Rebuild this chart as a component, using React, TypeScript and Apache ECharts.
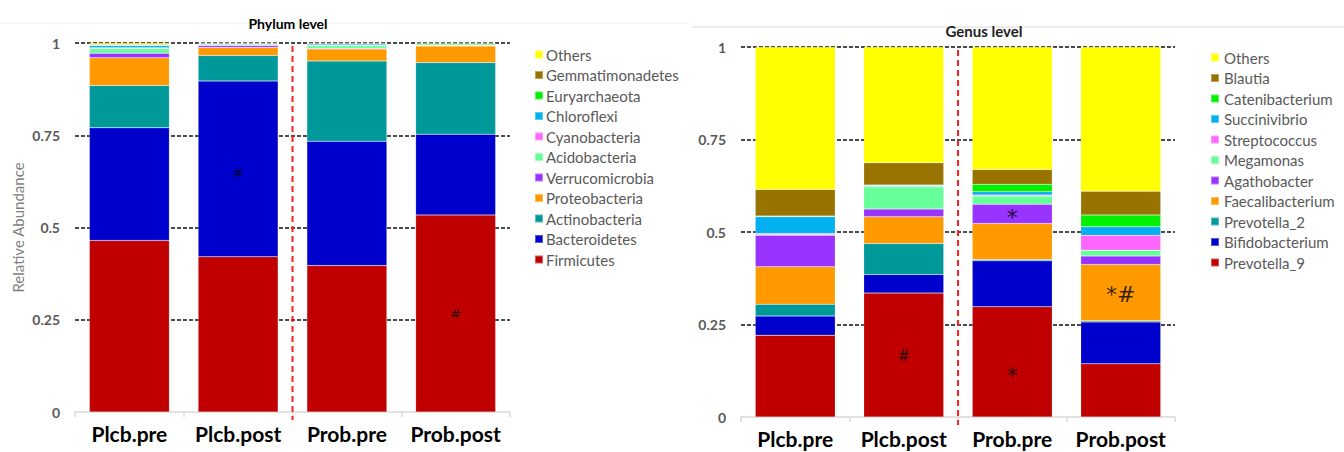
import React, { useEffect, useRef } from "react";
import * as echarts from "echarts";

const categories = ["Plcb.pre", "Plcb.post", "Prob.pre", "Prob.post"];

// Phylum level (bottom to top)
const phylumNames = [
  "Firmicutes", "Bacteroidetes", "Actinobacteria", "Proteobacteria", "Verrucomicrobia",
  "Acidobacteria", "Cyanobacteria", "Chloroflexi", "Euryarchaeota", "Gemmatimonadetes", "Others",
];
const firmicutes = [0.465, 0.421, 0.397, 0.534];
const bacteroidetes = [0.305, 0.476, 0.337, 0.219];
const actinobacteria = [0.115, 0.069, 0.217, 0.194];
const proteobacteria = [0.075, 0.022, 0.033, 0.045];
const verrucomicrobia = [0.012, 0.005, 0.002, 0.001];
const acidobacteria = [0.013, 0.002, 0.007, 0.001];
const cyanobacteria = [0.002, 0.001, 0.001, 0.0005];
const chloroflexi = [0.006, 0.002, 0.003, 0.001];
const euryarchaeota = [0.001, 0.0005, 0.001, 0.003];
const gemmatimonadetes = [0.002, 0.001, 0.001, 0.001];
const phylumOthers = [0.004, 0.001, 0.001, 0.0005];
const phylumValues = [
  firmicutes, bacteroidetes, actinobacteria, proteobacteria, verrucomicrobia,
  acidobacteria, cyanobacteria, chloroflexi, euryarchaeota, gemmatimonadetes, phylumOthers,
];

// Genus level (bottom to top)
const genusNames = [
  "Prevotella_9", "Bifidobacterium", "Prevotella_2", "Faecalibacterium", "Agathobacter",
  "Megamonas", "Streptococcus", "Succinivibrio", "Catenibacterium", "Blautia", "Others",
];
const prevotella9 = [0.221, 0.335, 0.298, 0.144];
const bifidobacterium = [0.052, 0.05, 0.124, 0.113];
const prevotella2 = [0.032, 0.084, 0.004, 0.003];
const faecalibacterium = [0.101, 0.072, 0.097, 0.152];
const agathobacter = [0.085, 0.021, 0.052, 0.023];
const megamonas = [0.002, 0.06, 0.022, 0.016];
const streptococcus = [0.003, 0.001, 0.003, 0.04];
const succinivibrio = [0.045, 0.003, 0.009, 0.023];
const catenibacterium = [0.002, 0.001, 0.02, 0.032];
const blautia = [0.072, 0.06, 0.04, 0.064];
const genusOthers = [0.385, 0.313, 0.331, 0.39];
const genusValues = [
  prevotella9, bifidobacterium, prevotella2, faecalibacterium, agathobacter,
  megamonas, streptococcus, succinivibrio, catenibacterium, blautia, genusOthers,
];

const colors = [
  "#C00000", "#0000CC", "#009999", "#FF9900", "#9933FF",
  "#66FF99", "#FF66FF", "#00B0F0", "#00F000", "#997300", "#FFFF00",
];

// significance marks: [category, value, text]
const phylumMarks: [string, number, string][] = [
  ["Plcb.post", 0.65, "#"],
  ["Prob.post", 0.268, "#"],
];
const genusMarks: [string, number, string][] = [
  ["Prob.pre", 0.538, "*"],
  ["Plcb.post", 0.164, "#"],
  ["Prob.pre", 0.113, "*"],
  ["Prob.post", 0.33, "*#"],
];

const yTicks = [0, 0.25, 0.5, 0.75, 1];

export default function App() {
  const ref = useRef<HTMLDivElement>(null);
  useEffect(() => {
    if (!ref.current) return;
    const chart = echarts.init(ref.current, null, { renderer: "svg" });
    const font = "Lato, 'Open Sans', sans-serif";

    const makeBars = (names: string[], values: number[][], idx: number, stack: string) =>
      names.map((n, i) => ({
        name: n,
        type: "bar",
        stack,
        xAxisIndex: idx,
        yAxisIndex: idx,
        barWidth: 80,
        data: values[i],
        itemStyle: { color: colors[i], borderColor: "rgba(255,255,255,0.35)", borderWidth: 0.5 },
        emphasis: { disabled: true },
      }));

    const makeMarks = (marks: [string, number, string][], idx: number, size: number, starSize: number) => ({
      type: "scatter",
      xAxisIndex: idx,
      yAxisIndex: idx,
      symbolSize: 1,
      itemStyle: { color: "rgba(0,0,0,0)" },
      z: 10,
      data: marks.map((m) => ({
        value: [m[0], m[1]],
        label: {
          show: true,
          position: "inside",
          formatter: m[2],
          color: "#000",
          fontSize: m[2].includes("*") ? starSize : size,
          fontFamily: "'DejaVu Sans', sans-serif",
        },
      })),
    });

    const xAxisBase = (gridIndex: number) => ({
      type: "category",
      gridIndex,
      data: categories,
      axisLine: { lineStyle: { color: "#d9d9d9", width: 1.5 } },
      axisTick: { show: true, length: 5, lineStyle: { color: "#d9d9d9", width: 1.5 } },
      axisLabel: {
        interval: 0,
        hideOverlap: false,
        color: "#000",
        fontSize: 21,
        fontWeight: "bold",
        fontFamily: font,
        margin: 11,
      },
    });
    const yAxisBase = (gridIndex: number) => ({
      type: "value",
      gridIndex,
      min: 0,
      max: 1,
      interval: 0.25,
      axisLine: { show: false },
      axisTick: { show: false },
      axisLabel: {
        color: "#595959",
        fontSize: 14,
        fontWeight: "bold",
        fontFamily: font,
        margin: 15,
        formatter: (v: number) => (yTicks.includes(v) ? String(v) : ""),
      },
      splitLine: {
        show: true,
        showMinLine: false,
        lineStyle: { color: "#111", type: [4, 2], width: 1.5 },
      },
    });

    chart.setOption({
      animation: false,
      backgroundColor: "#fff",
      title: [
        {
          text: "Phylum level",
          left: 283,
          top: 11,
          textAlign: "center",
          textStyle: { fontSize: 14, fontWeight: "bold", color: "#000", fontFamily: font },
        },
        {
          text: "Genus level",
          left: 979,
          top: 18,
          textAlign: "center",
          textStyle: { fontSize: 15, fontWeight: "bold", color: "#222", fontFamily: font },
        },
      ],
      grid: [
        { left: 75, right: 834, top: 43, bottom: 40 },
        { left: 741, right: 169, top: 47, bottom: 35 },
      ],
      xAxis: [xAxisBase(0), xAxisBase(1)],
      yAxis: [
        {
          ...yAxisBase(0),
          name: "Relative Abundance",
          nameLocation: "middle",
          nameGap: 50,
          nameTextStyle: { color: "#7f7f7f", fontSize: 15, fontFamily: font },
        },
        yAxisBase(1),
      ],
      legend: [
        {
          orient: "vertical",
          left: 529,
          top: 42,
          itemWidth: 8,
          itemHeight: 8,
          itemGap: 5.5,
          icon: "rect",
          data: [...phylumNames].reverse(),
          textStyle: { color: "#595959", fontSize: 15, fontFamily: font, lineHeight: 15, padding: [0, 0, 0, -2] },
          selectedMode: false,
        },
        {
          orient: "vertical",
          left: 1205,
          top: 45,
          itemWidth: 8,
          itemHeight: 8,
          itemGap: 5.5,
          icon: "rect",
          data: [...genusNames].reverse(),
          textStyle: { color: "#595959", fontSize: 15, fontFamily: font, lineHeight: 15, padding: [0, 0, 0, 0] },
          selectedMode: false,
        },
      ],
      series: [
        ...makeBars(phylumNames, phylumValues, 0, "phylum"),
        ...makeBars(genusNames, genusValues, 1, "genus"),
        makeMarks(phylumMarks, 0, 13, 20),
        makeMarks(genusMarks, 1, 15, 22),
      ],
    });

    const graphics: any[] = [
      { type: "line", shape: { x1: 0, y1: 23, x2: 690, y2: 23 }, style: { stroke: "#f0f0f0", lineWidth: 1 }, z: -1 },
      { type: "line", shape: { x1: 692, y1: 27, x2: 1344, y2: 27 }, style: { stroke: "#d9d9d9", lineWidth: 1 }, z: -1 },
    ];
    [0, 1].forEach((idx) => {
      const a = chart.convertToPixel({ xAxisIndex: idx, yAxisIndex: idx } as any, [categories[1], 1]) as number[];
      const b = chart.convertToPixel({ xAxisIndex: idx, yAxisIndex: idx } as any, [categories[2], 0]) as number[];
      const x = (a[0] + b[0]) / 2;
      graphics.push({
        type: "line",
        shape: { x1: x, y1: a[1] + 3, x2: x, y2: b[1] + 8 },
        style: { stroke: "#FF2020", lineWidth: 2, lineDash: [6, 4] },
        z: 20,
      });
    });
    chart.setOption({ graphic: graphics });

    return () => chart.dispose();
  }, []);

  return (
    <div
      ref={ref}
      style={{ position: "fixed", left: 0, top: 0, width: 1344, height: 452, background: "#fff" }}
    />
  );
}
